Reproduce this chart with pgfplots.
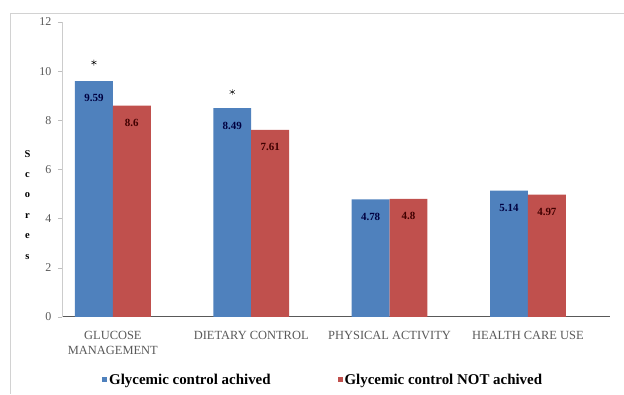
\documentclass[border=0pt]{standalone}
\usepackage{pgfplots}
\pgfplotsset{compat=1.18}
\usepackage{fontspec}
\setmainfont{Liberation Serif}
\definecolor{xlblue}{HTML}{4F81BD}
\definecolor{xlred}{HTML}{C0504D}
\definecolor{txtgray}{HTML}{595959}
\begin{document}
\begin{tikzpicture}
\path (0bp,0bp) rectangle (624bp,394bp);
\draw[gray!35, line width=0.9pt] (10bp,0bp) -- (10bp,381bp) -- (624bp,381bp);
\begin{axis}[
  at={(62bp,77bp)}, anchor=south west,
  scale only axis, width=548bp, height=295bp,
  xmin=-0.368, xmax=3.59, ymin=0, ymax=12,
  ybar, bar width=0.274,
  axis lines*=left,
  x axis line style={draw=gray!70!black, line width=1.1pt},
  y axis line style={draw=gray!40},
  xtick={0,1,2,3},
  xticklabels={{GLUCOSE\\MANAGEMENT},{DIETARY CONTROL},{PHYSICAL ACTIVITY},{HEALTH CARE USE}},
  xticklabel style={align=center, font=\fontsize{12.5}{15}\selectfont, text=txtgray, yshift=-7bp},
  x tick style={draw=none},
  ytick={0,2,4,6,8,10,12},
  yticklabel style={font=\fontsize{12}{13}\selectfont, text=txtgray, xshift=-3bp},
  y tick style={draw=gray!50},
  tick align=outside, major tick length=4bp,
  /pgf/number format/assume math mode=true,
  ylabel={S\\c\\o\\r\\e\\s},
  ylabel style={rotate=-90, align=center, font=\bfseries\fontsize{10.5}{20.5}\selectfont, at={(rel axis cs:-0.063,0.38)}, anchor=center},
  legend columns=2,
  legend style={at={(rel axis cs:0.477,-0.214)}, anchor=center, draw=none, fill=none,
    font=\bfseries\fontsize{15}{17}\selectfont, /tikz/every even column/.append style={column sep=65bp}},
  legend image code/.code={\fill[#1] (0bp,-2.5bp) rectangle (5bp,2.5bp);},
  nodes near coords style={font=\bfseries\fontsize{11}{12}\selectfont, anchor=north, yshift=-10bp},
]
\addplot[bar shift=-0.137, fill=xlblue, draw=none,
  nodes near coords, nodes near coords style={text=blue!25!black}]
  coordinates {(0,9.59) (1,8.49) (2,4.78) (3,5.14)};
\addlegendentry{Glycemic control achived}
\addplot[bar shift=0.137, fill=xlred, draw=none,
  nodes near coords, nodes near coords style={text=red!25!black}]
  coordinates {(0,8.6) (1,7.61) (2,4.8) (3,4.97)};
\addlegendentry{Glycemic control NOT achived}
\addplot[sharp plot, draw=none, only marks, mark=asterisk, mark size=3pt, black, forget plot]
  coordinates {(-0.137,10.35) (0.863,9.15)};
\end{axis}
\end{tikzpicture}
\end{document}
